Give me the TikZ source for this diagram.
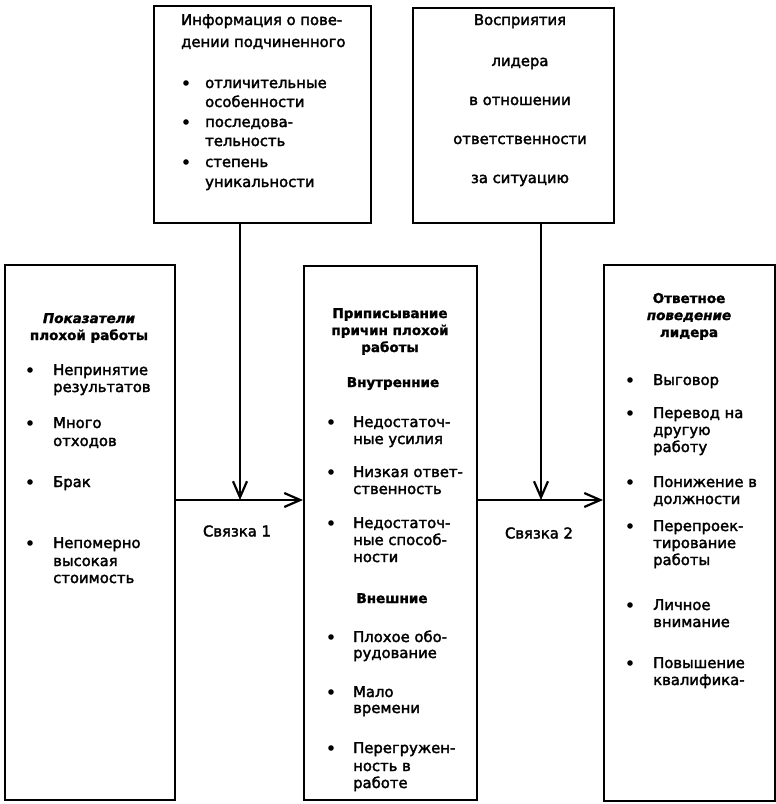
\documentclass[tikz,border=0pt]{standalone}
\usepackage{fontspec}
\setmainfont{DejaVu Sans}
\newfontfamily\bodyf{DejaVu Sans}[FakeBold=2.2]
\newfontfamily\headf{DejaVu Sans Bold}[FakeBold=1.5]
\newfontfamily\headfi{DejaVu Sans Bold Oblique}[FakeBold=1.5]
\usetikzlibrary{arrows.meta}
\tikzset{
 box/.style={draw, line width=2.2pt, anchor=north west, inner sep=0pt},
 txt/.style={inner sep=0pt, font=\bodyf\fontsize{14.8}{17}\selectfont},
 hd/.style={inner sep=0pt, font=\headf\fontsize{13.5}{16}\selectfont},
 arr/.style={line width=2.2pt, -{Straight Barb[length=16pt,width=14pt,line width=2.2pt]}},
}
\newcommand\Tw[4]{\node[txt,anchor=base west] (#1) at (#2,#3+5) {#4};}
\newcommand\Tc[4]{\node[txt,anchor=base] (#1) at (#2,#3+5) {#4};}
\newcommand\Hc[4]{\node[hd,anchor=base] (#1) at (#2,#3+5) {#4};}
\newcommand\Bu[2]{\fill (#1,#2) circle (2.8pt);}
\begin{document}
\begin{tikzpicture}[x=1pt,y=-1pt]
\fill[white] (0,0) rectangle (776,804);
\useasboundingbox (0,0) rectangle (776,804);
% boxes
\node[box, minimum width=217pt, minimum height=217pt] (info) at (153,5) {};
\node[box, minimum width=201pt, minimum height=215pt] (perc) at (412,7) {};
\node[box, minimum width=170pt, minimum height=535pt] (left) at (4,264) {};
\node[box, minimum width=173pt, minimum height=534pt] (mid) at (303,265) {};
\node[box, minimum width=171pt, minimum height=536pt] (right) at (603,264) {};
% connectors
\coordinate (j1) at (240,500);
\coordinate (j2) at (541,500);
\draw[arr] (info.south -| j1) -- (j1);
\draw[arr] (left.east |- j1) -- (mid.west |- j1);
\draw[arr] (perc.south -| j2) -- (j2);
\draw[arr] (mid.east |- j2) -- (right.west |- j2);
\node[txt] (s1) at (237,531) {Связка 1};
\node[txt] (s2) at (539,533) {Связка 2};
% info box
\Tw{i1}{181}{20}{Информация о пове-}
\Tw{i2}{181}{42}{дении подчиненного}
\Bu{186}{83}\Tw{i3}{205}{83}{отличительные}
\Tw{i4}{205}{102}{особенности}
\Bu{186}{122}\Tw{i5}{205}{122}{последова-}
\Tw{i6}{205}{141}{тельность}
\Bu{186}{162}\Tw{i7}{205}{162}{степень}
\Tw{i8}{205}{182}{уникальности}
% perception box
\Tc{p1}{520}{20}{Восприятия}
\Tc{p2}{520}{61}{лидера}
\Tc{p3}{520}{100}{в отношении}
\Tc{p4}{520}{139}{ответственности}
\Tc{p5}{520}{178}{за ситуацию}
% left box
\Hc{l1}{89}{318}{\headfi Показатели}
\Hc{l2}{89}{335}{плохой работы}
\Bu{30}{370}\Tw{l3}{53}{370}{Непринятие}
\Tw{l4}{53}{387}{результатов}
\Bu{30}{423}\Tw{l5}{53}{423}{Много}
\Tw{l6}{53}{441}{отходов}
\Bu{30}{482}\Tw{l7}{53}{482}{Брак}
\Bu{30}{543}\Tw{l8}{53}{543}{Непомерно}
\Tw{l9}{53}{561}{высокая}
\Tw{l10}{53}{578}{стоимость}
% middle box
\Hc{m1}{390}{313}{Приписывание}
\Hc{m2}{390}{330}{причин плохой}
\Hc{m3}{390}{347}{работы}
\Hc{m4}{393}{382}{Внутренние}
\Bu{331}{422}\Tw{m5}{353}{422}{Недостаточ-}
\Tw{m6}{353}{439}{ные усилия}
\Bu{331}{472}\Tw{m7}{353}{472}{Низкая ответ-}
\Tw{m8}{353}{489}{ственность}
\Bu{331}{523}\Tw{m9}{353}{523}{Недостаточ-}
\Tw{m10}{353}{540}{ные способ-}
\Tw{m11}{353}{557}{ности}
\Hc{m12}{392}{598}{Внешние}
\Bu{331}{637}\Tw{m13}{353}{637}{Плохое обо-}
\Tw{m14}{353}{653}{рудование}
\Bu{331}{692}\Tw{m15}{353}{692}{Мало}
\Tw{m16}{353}{708}{времени}
\Bu{331}{748}\Tw{m17}{353}{748}{Перегружен-}
\Tw{m18}{353}{766}{ность в}
\Tw{m19}{353}{783}{работе}
% right box
\Hc{r1}{689}{298}{Ответное}
\Hc{r2}{689}{315}{\headfi поведение}
\Hc{r3}{689}{332}{лидера}
\Bu{630}{380}\Tw{r4}{653}{380}{Выговор}
\Bu{630}{413}\Tw{r5}{653}{413}{Перевод на}
\Tw{r6}{653}{430}{другую}
\Tw{r7}{653}{447}{работу}
\Bu{630}{482}\Tw{r8}{653}{482}{Понижение в}
\Tw{r9}{653}{499}{должности}
\Bu{630}{526}\Tw{r10}{653}{526}{Перепроек-}
\Tw{r11}{653}{543}{тирование}
\Tw{r12}{653}{560}{работы}
\Bu{630}{605}\Tw{r13}{653}{605}{Личное}
\Tw{r14}{653}{622}{внимание}
\Bu{630}{663}\Tw{r15}{653}{663}{Повышение}
\Tw{r16}{653}{680}{квалифика-}
\end{tikzpicture}
\end{document}
